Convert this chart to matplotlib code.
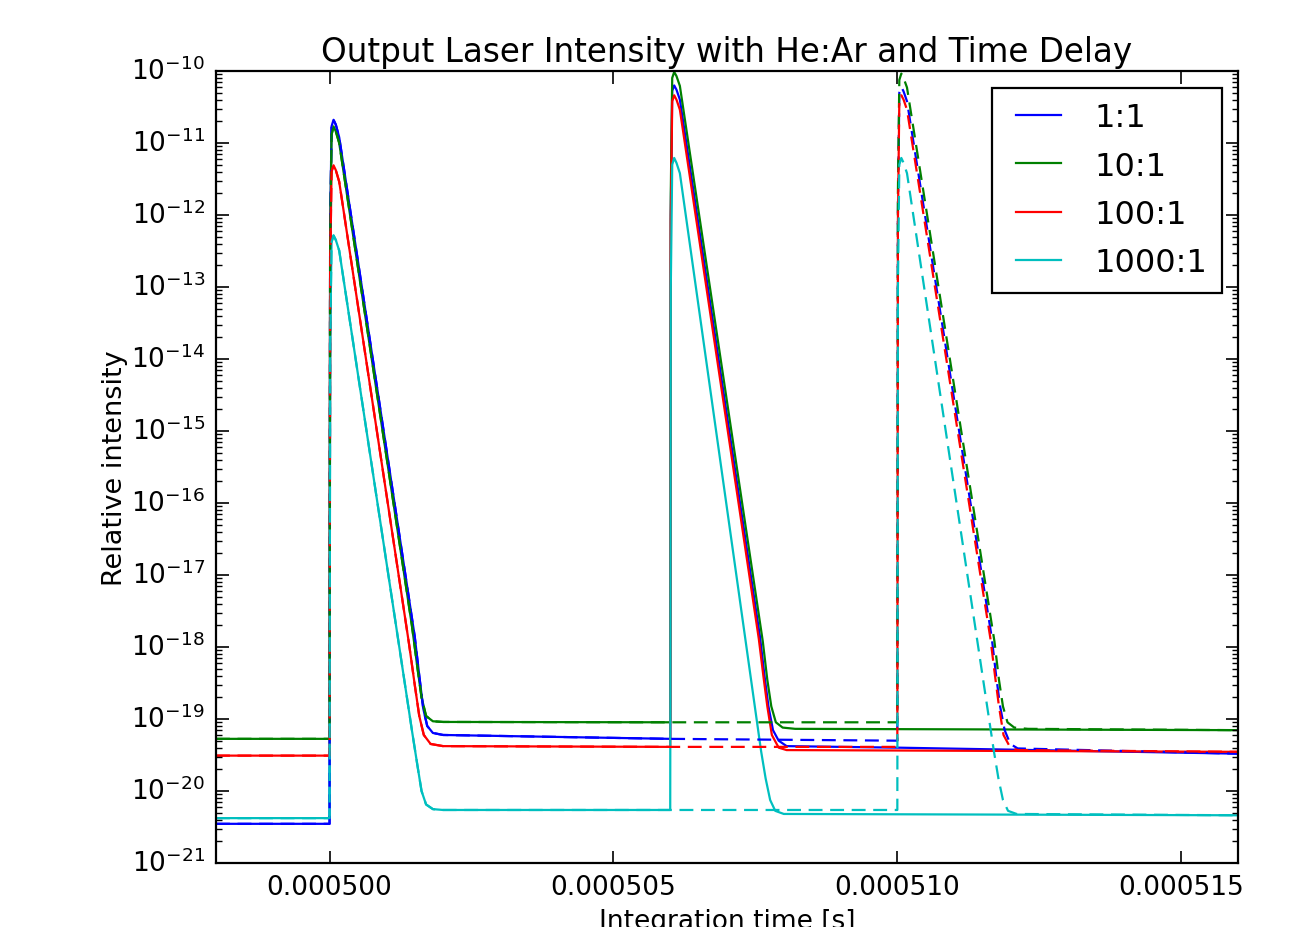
import numpy as np
import matplotlib
matplotlib.use("Agg")
import matplotlib.pyplot as plt
from matplotlib.ticker import FormatStrFormatter, FixedLocator, LogLocator

plt.style.use("classic")
plt.rcParams["figure.facecolor"] = "white"
plt.rcParams["savefig.facecolor"] = "white"
plt.rcParams["mathtext.fontset"] = "dejavusans"
plt.rcParams["font.family"] = ["DejaVu Sans"]

# ---------------- data (times in microseconds, relative intensity) ----------------
labels = ["1:1", "10:1", "100:1", "1000:1"]
colors = ["b", "g", "r", "c"]

# solid curves: pulses at 500 us and 506 us
t_11 = [498.0, 500.0, 500.01, 500.035, 500.07, 500.11, 500.17, 501.50, 501.58, 501.65, 501.72, 501.82, 502.0,
        506.0, 506.01, 506.035, 506.07, 506.11, 506.17, 507.58, 507.66, 507.73, 507.81, 507.91, 508.05, 510.0, 516.0]
v_11 = [3.5e-21, 3.5e-21, 5e-13, 1.7e-11, 2.1e-11, 1.8e-11, 1.2e-11, 1.4e-18, 4e-19, 1.4e-19, 8e-20, 6.4e-20, 6.0e-20,
        5.3e-20, 1e-12, 5.3e-11, 6.3e-11, 5.5e-11, 4.0e-11, 1.4e-18, 4e-19, 1.5e-19, 7e-20, 5e-20, 4.2e-20, 4.0e-20, 3.3e-20]

t_101 = [498.0, 500.0, 500.01, 500.035, 500.07, 500.11, 500.17, 501.45, 501.55, 501.62, 501.70, 501.82, 502.0,
         506.0, 506.01, 506.035, 506.07, 506.11, 506.17, 507.63, 507.71, 507.78, 507.86, 507.98, 508.2, 516.0]
v_101 = [5.3e-20, 5.3e-20, 4e-13, 1.3e-11, 1.7e-11, 1.45e-11, 1.0e-11, 2.0e-18, 5e-19, 2e-19, 1.1e-19, 9.3e-20, 9.1e-20,
         9.0e-20, 2e-12, 8.0e-11, 9.7e-11, 8.5e-11, 6.2e-11, 1.2e-18, 3.5e-19, 1.5e-19, 9e-20, 7.6e-20, 7.3e-20, 7.0e-20]

t_1001 = [498.0, 500.0, 500.01, 500.035, 500.07, 500.11, 500.17, 501.40, 501.50, 501.58, 501.66, 501.78, 502.0,
          506.0, 506.01, 506.035, 506.07, 506.11, 506.17, 507.56, 507.64, 507.71, 507.79, 507.91, 508.05, 516.0]
v_1001 = [3.1e-20, 3.1e-20, 1.5e-13, 4.0e-12, 4.9e-12, 4.2e-12, 2.9e-12, 1.1e-18, 3e-19, 1.1e-19, 6e-20, 4.5e-20, 4.2e-20,
          4.1e-20, 8e-13, 3.8e-11, 4.6e-11, 4.0e-11, 2.9e-11, 1.3e-18, 4e-19, 1.5e-19, 6e-20, 4e-20, 3.7e-20, 3.5e-20]

t_10001 = [498.0, 500.0, 500.01, 500.035, 500.07, 500.11, 500.17, 501.45, 501.55, 501.62, 501.70, 501.82, 502.0,
           506.0, 506.01, 506.035, 506.07, 506.11, 506.17, 507.60, 507.68, 507.76, 507.85, 508.0, 516.0]
v_10001 = [4.2e-21, 4.2e-21, 1.5e-14, 4.2e-13, 5.2e-13, 4.5e-13, 3.2e-13, 7e-20, 2.2e-20, 1.0e-20, 6.5e-21, 5.6e-21, 5.45e-21,
           5.45e-21, 1e-13, 5.0e-12, 6.2e-12, 5.3e-12, 3.8e-12, 3.6e-20, 1.5e-20, 7.5e-21, 5.3e-21, 4.8e-21, 4.6e-21]

# dashed curves: pulses at 500 us and 510 us
td_11 = [498.0, 500.0, 500.01, 500.035, 500.07, 500.11, 500.17, 501.50, 501.58, 501.65, 501.72, 501.82, 502.0,
         506.0, 510.0, 510.01, 510.035, 510.07, 510.11, 510.17, 511.66, 511.74, 511.81, 511.89, 511.99, 512.12, 516.0]
vd_11 = [3.5e-21, 3.5e-21, 5e-13, 1.7e-11, 2.1e-11, 1.8e-11, 1.2e-11, 1.4e-18, 4e-19, 1.4e-19, 8e-20, 6.4e-20, 6.0e-20,
         5.3e-20, 5.0e-20, 1e-12, 5.0e-11, 6.0e-11, 5.2e-11, 3.8e-11, 1.4e-18, 4e-19, 1.5e-19, 7e-20, 4.5e-20, 3.9e-20, 3.3e-20]

td_101 = [498.0, 500.0, 500.01, 500.035, 500.07, 500.11, 500.17, 501.45, 501.55, 501.62, 501.70, 501.82, 502.0,
          506.0, 510.0, 510.01, 510.035, 510.07, 510.11, 510.17, 511.71, 511.79, 511.86, 511.94, 512.06, 512.3, 516.0]
vd_101 = [5.3e-20, 5.3e-20, 4e-13, 1.3e-11, 1.7e-11, 1.45e-11, 1.0e-11, 2.0e-18, 5e-19, 2e-19, 1.1e-19, 9.3e-20, 9.1e-20,
          9.0e-20, 9.0e-20, 2e-12, 7.5e-11, 9.2e-11, 8.0e-11, 5.9e-11, 1.2e-18, 3.5e-19, 1.5e-19, 9e-20, 7.6e-20, 7.3e-20, 7.0e-20]

td_1001 = [498.0, 500.0, 500.01, 500.035, 500.07, 500.11, 500.17, 501.40, 501.50, 501.58, 501.66, 501.78, 502.0,
           506.0, 510.0, 510.01, 510.035, 510.07, 510.11, 510.17, 511.64, 511.72, 511.79, 511.87, 511.99, 512.12, 516.0]
vd_1001 = [3.1e-20, 3.1e-20, 1.5e-13, 4.0e-12, 4.9e-12, 4.2e-12, 2.9e-12, 1.1e-18, 3e-19, 1.1e-19, 6e-20, 4.5e-20, 4.2e-20,
           4.1e-20, 4.1e-20, 8e-13, 3.8e-11, 4.6e-11, 4.0e-11, 2.9e-11, 1.3e-18, 4e-19, 1.5e-19, 6e-20, 4e-20, 3.7e-20, 3.5e-20]

td_10001 = [498.0, 500.0, 500.01, 500.035, 500.07, 500.11, 500.17, 501.45, 501.55, 501.62, 501.70, 501.82, 502.0,
            506.0, 510.0, 510.01, 510.035, 510.07, 510.11, 510.17, 511.70, 511.78, 511.86, 511.95, 512.1, 516.0]
vd_10001 = [4.2e-21, 4.2e-21, 1.5e-14, 4.2e-13, 5.2e-13, 4.5e-13, 3.2e-13, 7e-20, 2.2e-20, 1.0e-20, 6.5e-21, 5.6e-21, 5.45e-21,
            5.45e-21, 5.45e-21, 1e-13, 5.0e-12, 6.2e-12, 5.3e-12, 3.8e-12, 3.6e-20, 1.5e-20, 7.5e-21, 5.3e-21, 4.8e-21, 4.6e-21]

solid_t = [t_11, t_101, t_1001, t_10001]
solid_v = [v_11, v_101, v_1001, v_10001]
dash_t = [td_11, td_101, td_1001, td_10001]
dash_v = [vd_11, vd_101, vd_1001, vd_10001]

x_ticks = [0.000500, 0.000505, 0.000510, 0.000515]

# ---------------- figure ----------------
fig = plt.figure(figsize=(12.92, 9.28), dpi=100)
ax = fig.add_axes([216 / 1292, 64 / 928, 1022 / 1292, 792 / 928])

lw = 1.6
for t, v, c, lab in zip(solid_t, solid_v, colors, labels):
    ax.semilogy(np.array(t) * 1e-6, v, color=c, lw=lw, label=lab)
for t, v, c in zip(dash_t, dash_v, colors):
    ax.semilogy(np.array(t) * 1e-6, v, color=c, lw=lw, linestyle="--", dashes=(10, 5.5))

ax.set_xlim(498e-6, 516e-6)
ax.set_ylim(1e-21, 1e-10)
ax.xaxis.set_major_locator(FixedLocator(x_ticks))
ax.xaxis.set_major_formatter(FormatStrFormatter("%.6f"))
ax.yaxis.set_major_locator(LogLocator(base=10, numticks=20))
ax.yaxis.set_minor_locator(LogLocator(base=10, subs=np.arange(2, 10), numticks=20))

ax.tick_params(axis="both", which="major", labelsize=19, length=9, width=1.2, direction="in",
               top=True, right=True, pad=8)
ax.tick_params(axis="both", which="minor", length=4.5, width=1.0, direction="in", top=True, right=True)
for sp in ax.spines.values():
    sp.set_linewidth(1.6)

ax.set_title("Output Laser Intensity with He:Ar and Time Delay", fontsize=23.5, pad=7)
ax.set_xlabel("Integration time [s]", fontsize=19, labelpad=6)
ax.set_ylabel("Relative intensity", fontsize=19.5, labelpad=2)

leg = ax.legend(loc="upper right", bbox_to_anchor=((1222 - 216) / 1022, (864 - 89) / 792),
                borderaxespad=0, fontsize=23, handlelength=2.0, handletextpad=0.77,
                labelspacing=0.54, borderpad=0.45, fancybox=False)
leg.get_frame().set_linewidth(1.6)
leg.get_frame().set_edgecolor("black")

fig.savefig("out.png", dpi=100)
